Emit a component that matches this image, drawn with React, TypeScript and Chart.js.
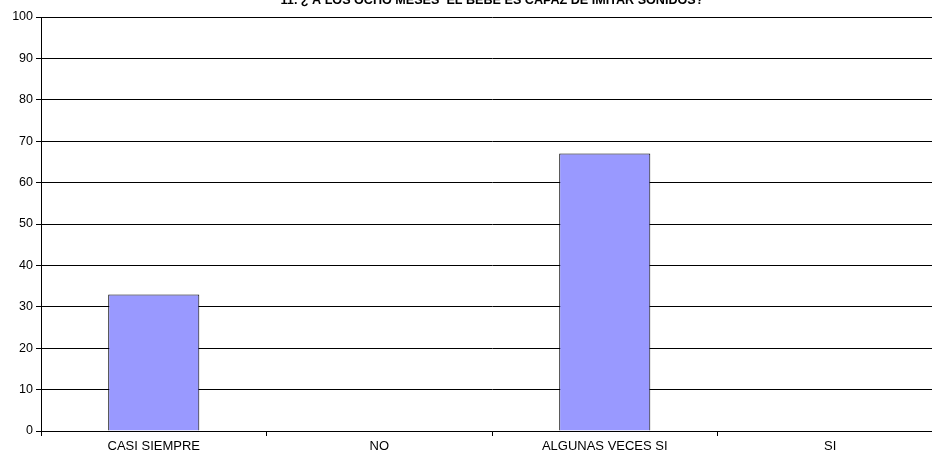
import React, { useEffect, useRef } from "react";
import { Chart, registerables } from "chart.js";

Chart.register(...registerables);

const categories = ["CASI SIEMPRE", "NO", "ALGUNAS VECES SI", "SI"];
const values = [33, 0, 67, 0];
const titleText = "11. ¿ A LOS OCHO MESES  EL BEBE ES CAPAZ DE IMITAR SONIDOS?";
const yMin = 0;
const yMax = 100;
const yStep = 10;

const FONT = "Arial, 'Liberation Sans', sans-serif";

const titlePlugin = {
  id: "clippedTitle",
  afterDraw(chart: any) {
    const { ctx, chartArea } = chart;
    ctx.save();
    ctx.font = `bold 12.6px ${FONT}`;
    ctx.fillStyle = "#000";
    ctx.textAlign = "center";
    ctx.textBaseline = "alphabetic";
    ctx.fillText(titleText, (chartArea.left + chartArea.right) / 2, 4);
    ctx.restore();
  },
};

export default function App() {
  const ref = useRef<HTMLCanvasElement>(null);
  useEffect(() => {
    if (!ref.current) return;
    const chart = new Chart(ref.current, {
      type: "bar",
      data: {
        labels: categories,
        datasets: [
          {
            data: values,
            backgroundColor: "#9999FF",
            borderColor: "#000",
            borderWidth: 1,
            barPercentage: 0.404,
            categoryPercentage: 1,
          },
        ],
      },
      options: {
        animation: false,
        responsive: false,
        maintainAspectRatio: false,
        layout: { padding: { top: 17, right: 17, left: 0, bottom: 0 } },
        plugins: {
          legend: { display: false },
          title: { display: false },
          tooltip: { enabled: false },
        },
        scales: {
          x: {
            offset: true,
            grid: {
              offset: true,
              drawOnChartArea: false,
              drawTicks: true,
              tickLength: 5,
              color: "#000",
            },
            border: { color: "#000", width: 1 },
            ticks: {
              color: "#000",
              font: { family: FONT, size: 13 },
              padding: 3,
              maxRotation: 0,
              autoSkip: false,
            },
            afterFit(scale: any) {
              scale.height = 22;
            },
          },
          y: {
            min: yMin,
            max: yMax,
            grid: {
              color: "#000",
              drawTicks: true,
              tickLength: 5,
            },
            border: { color: "#000", width: 1 },
            ticks: {
              stepSize: yStep,
              color: "#000",
              font: { family: FONT, size: 12.5 },
              padding: 3,
            },
            afterFit(scale: any) {
              scale.width = 41;
            },
          },
        },
      },
      plugins: [titlePlugin],
    });
    return () => chart.destroy();
  }, []);
  return (
    <div
      style={{
        position: "fixed",
        left: 0,
        top: 0,
        width: 932,
        height: 453,
        overflow: "hidden",
        background: "#fff",
      }}
    >
      <canvas ref={ref} width={960} height={453} style={{ display: "block" }} />
    </div>
  );
}
